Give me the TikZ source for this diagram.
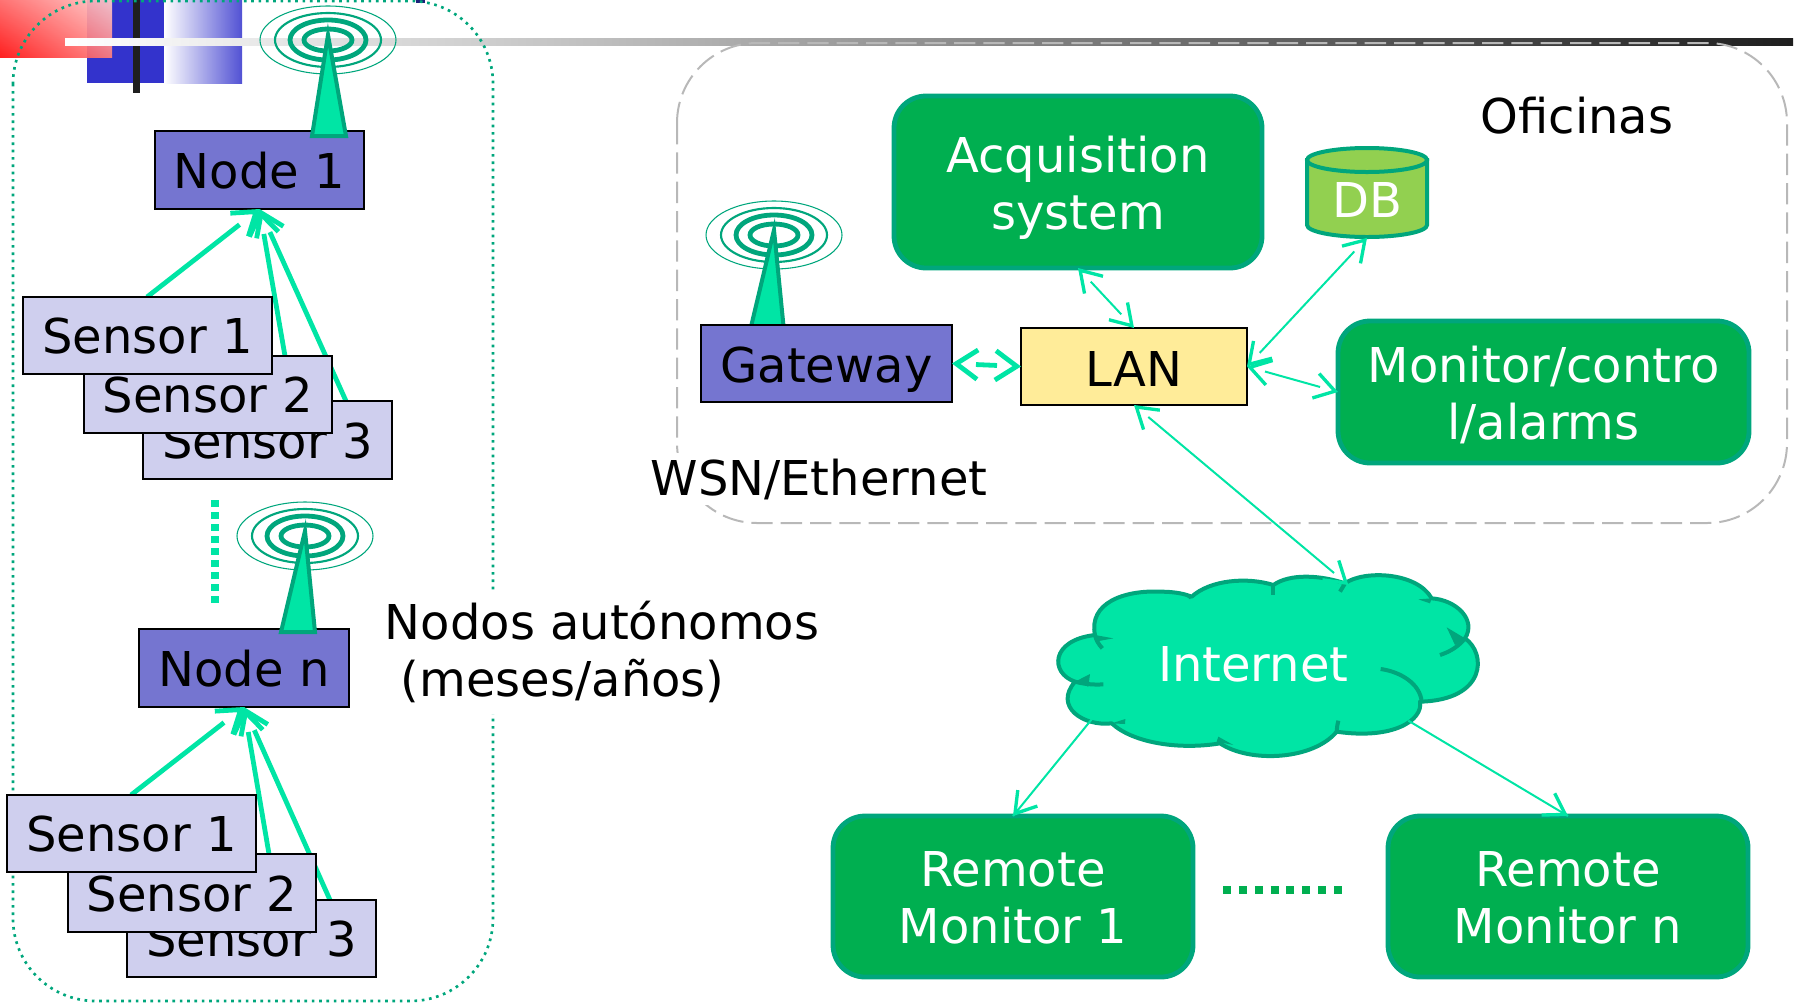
\documentclass[tikz,border=0pt]{standalone}
\usepackage{fontspec}
\setmainfont{DejaVu Sans}
\usetikzlibrary{arrows.meta,calc,shadings}
\definecolor{tealc}{HTML}{00A67C}
\definecolor{mint}{HTML}{00E5A5}
\definecolor{gbox}{HTML}{00AF50}
\definecolor{nodeb}{HTML}{7575D0}
\definecolor{sensb}{HTML}{CFCFEE}
\definecolor{lanb}{HTML}{FFEC99}
\definecolor{dbg}{HTML}{92D050}
\definecolor{bluep}{HTML}{3333CC}
\tikzset{
 basefont/.style={font=\fontsize{36}{43}\selectfont},
 bx/.style={basefont,inner sep=0pt,outer sep=0pt,align=center},
 blk/.style={bx,draw=black,line width=1.6pt,text height=27pt,text depth=0pt},
 nodebox/.style={blk,fill=nodeb},
 sensbox/.style={blk,fill=sensb},
 gatebox/.style={blk,fill=nodeb,text height=29pt},
 lanbox/.style={blk,fill=lanb,text height=30.5pt},
 greenbox/.style={bx,draw=tealc,fill=gbox,text=white,line width=3.6pt,rounded corners=24pt,text height=71.2pt,text depth=0pt},
 plain/.style={basefont,inner sep=0pt,align=left},
 fatline/.style={draw=mint,line width=3.6pt},
 fathead/.style={draw=mint,line width=3.6pt,dash pattern=on 0pt off 3000pt},
 thinline/.style={draw=mint,line width=1.5pt},
 thinhead/.style={draw=mint,line width=2.5pt,dash pattern=on 0pt off 3000pt},
 barb/.tip={Straight Barb[length=15pt,width=19pt]},
 fatbarb/.tip={Straight Barb[length=16pt,width=22pt]},
}
\newcommand{\bxn}[7][]{%
 \pgfmathsetmacro{\cx}{(#3+#5)/2}\pgfmathsetmacro{\cy}{(#4+#6)/2}%
 \pgfmathsetmacro{\bw}{(#5-#3)*0.75}\pgfmathsetmacro{\bh}{(#6-#4)*0.75}%
 \node[#1,minimum width=\bw pt,minimum height=\bh pt] (#2) at (\cx,\cy) {#7};}
% single-headed and double-headed open arrows: the line stops short of the head
\newcommand{\fatone}[2]{%
 \draw[fatline,shorten >=19pt] (#1) -- (#2);
 \draw[fathead,-{fatbarb}] (#1) -- (#2);}
\newcommand{\fattwo}[2]{%
 \draw[fatline,shorten >=18pt,shorten <=18pt] (#1) -- (#2);
 \draw[fathead,{fatbarb}-{fatbarb}] (#1) -- (#2);}
\newcommand{\thintwo}[2]{%
 \draw[thinline,shorten >=14pt,shorten <=14pt] (#1) -- (#2);
 \draw[thinhead,{barb}-{barb}] (#1) -- (#2);}
\newcommand{\thinone}[2]{%
 \draw[thinline] (#1) -- (#2);
 \draw[thinhead,-{barb}] (#1) -- (#2);}
\newcommand{\antenna}[3]{%
 \begin{scope}[shift={(#1,#2)}]
  \draw[tealc,line width=.8pt] (0,0) ellipse [x radius=68,y radius=34];
  \draw[tealc,line width=1.6pt] (0,0) ellipse [x radius=53,y radius=27];
  \draw[tealc,line width=3.6pt] (0,0) ellipse [x radius=38,y radius=20];
  \draw[tealc,line width=3.6pt] (0,0) ellipse [x radius=24,y radius=11];
  \draw[tealc,fill=mint,line width=3pt,line join=miter] (0,-5) -- (#3-17,96) -- (#3+17,96) -- cycle;
 \end{scope}}
\begin{document}
\begin{tikzpicture}[x=0.75pt,y=-0.75pt]
\useasboundingbox (0,0) rectangle (1797,1004);
% header decoration
\fill[bluep] (87,0) rectangle (164,83);
\shade[left color=white,right color=bluep!85!white] (164,0) rectangle (242,83);
\shade[lower left=red!95!white,upper right=red!20!white,upper left=red!60!white,lower right=red!50!white,opacity=.92] (0,0) rectangle (112,57);
\fill[black!88] (133,0) rectangle (140,93);
\shade[left color=white,right color=black!20] (65,38) rectangle (500,45);
\shade[left color=black!20,right color=black!55] (500,38) rectangle (1140,45);
\shade[left color=black!55,right color=black!88] (1140,38) rectangle (1793,45);
\fill[bluep!60!black] (416,0) rectangle (425,3);
% group frames
\draw[tealc,line width=2pt,dash pattern=on 2pt off 3.5pt,rounded corners=62pt] (13,1) rectangle (493,1001);
\draw[black!28,line width=1.5pt,dash pattern=on 16pt off 6pt,rounded corners=60pt] (677,43) rectangle (1787,523);
% arrows
\bxn[nodebox]{nodeA}{155}{131}{364}{209}{Node 1}
\bxn[nodebox]{nodeB}{139}{629}{349}{707}{Node n}
\coordinate (aS3) at (346,401);
\coordinate (aS2) at (285,356);
\coordinate (aS1) at (147,297);
\coordinate (bS3) at (330,900);
\coordinate (bS2) at (269,854);
\coordinate (bS1) at (131,795);
\fatone{aS1}{nodeA.south}
\fatone{aS2}{nodeA.south}
\fatone{aS3}{nodeA.south}
\fatone{bS1}{nodeB.south}
\fatone{bS2}{nodeB.south}
\fatone{bS3}{nodeB.south}
\bxn[sensbox]{a3}{143}{401}{392}{479}{Sensor 3}
\bxn[sensbox]{a2}{84}{356}{332}{433}{Sensor 2}
\bxn[sensbox]{a1}{23}{297}{272}{374}{Sensor 1}
\bxn[sensbox]{b3}{127}{900}{376}{977}{Sensor 3}
\bxn[sensbox]{b2}{68}{854}{316}{932}{Sensor 2}
\bxn[sensbox]{b1}{7}{795}{256}{872}{Sensor 1}
\antenna{328}{40}{1}
\antenna{305}{536}{-7}
\antenna{774}{235}{-7}
\draw[mint,line width=5.5pt,dash pattern=on 5pt off 4pt] (215,500) -- (215,603);
% labels with white backgrounds
\node[plain,fill=white,inner xsep=2pt,inner ysep=8pt,anchor=west] (auto) at (382,652) {Nodos autónomos\\\hspace{12pt}(meses/años)};
\node[plain,fill=white,inner sep=4pt] (wsn) at (819,479) {WSN/Ethernet};
\node[plain] (ofi) at (1577,116) {Oficinas};
% office boxes
\bxn[greenbox]{acq}{894}{96}{1262}{268}{Acquisition\\system}
\bxn[greenbox]{mon}{1338}{321}{1749}{463}{Monitor/contro\\l/alarms}
\bxn[greenbox]{rem1}{833}{816}{1193}{977}{Remote\\Monitor 1}
\bxn[greenbox]{remn}{1388}{816}{1748}{977}{Remote\\Monitor n}
\bxn[gatebox]{gw}{701}{325}{952}{402}{Gateway}
\bxn[lanbox]{lan}{1021}{328}{1247}{405}{LAN}
% database cylinder
\draw[tealc,fill=dbg,line width=3pt] (1307,160) -- (1307,225) arc [start angle=180,end angle=0,x radius=60,y radius=12] -- (1427,160) -- cycle;
\draw[tealc,fill=dbg,line width=3pt] (1367,160) ellipse [x radius=60,y radius=12];
\node[bx,text=white,minimum width=92pt,minimum height=68pt,text height=38.2pt,text depth=0pt] (db) at (1367,192.5) {DB};
% cloud
\begin{scope}[shift={(1020,540)},x=0.25pt,y=-0.25pt,line join=round]
\draw[tealc,fill=mint,line width=3pt]
 (225,285) .. controls (205,190) and (310,150) .. (420,155)
 .. controls (460,155) and (490,160) .. (515,170)
 .. controls (570,120) and (680,110) .. (760,135)
 .. controls (810,100) and (900,105) .. (975,130)
 .. controls (1030,90) and (1190,95) .. (1235,175)
 .. controls (1310,180) and (1370,240) .. (1335,295)
 .. controls (1400,340) and (1400,480) .. (1200,485)
 .. controls (1210,540) and (1120,600) .. (950,575)
 .. controls (880,660) and (690,670) .. (600,610)
 .. controls (480,630) and (340,610) .. (275,550)
 .. controls (190,560) and (100,500) .. (165,425)
 .. controls (90,400) and (90,300) .. (225,285) -- cycle;
\draw[tealc,line width=3pt] (1205,485) .. controls (1200,430) and (1140,395) .. (1082,387);
\draw[tealc,line width=3pt] (1335,295) .. controls (1315,320) and (1290,335) .. (1260,345);
\draw[tealc,line width=3pt] (950,575) .. controls (950,565) and (952,555) .. (955,542);
\draw[tealc,line width=3pt] (225,285) .. controls (228,300) and (235,312) .. (247,325);
\draw[tealc,line width=3pt] (165,425) .. controls (190,432) and (220,435) .. (250,433);
\draw[tealc,line width=3pt] (760,135) -- (760,165);
\draw[tealc,line width=3pt] (975,130) -- (960,155);
\fill[tealc] (225,285) -- (280,295) -- (225,305) -- cycle;
\fill[tealc] (165,425) -- (210,402) -- (205,440) -- cycle;
\fill[tealc] (1335,295) -- (1280,262) -- (1305,315) -- cycle;
\fill[tealc] (1235,175) -- (1195,178) -- (1230,190) -- cycle;
\fill[tealc] (515,170) -- (480,155) -- (510,178) -- cycle;
\fill[tealc] (275,550) -- (316,537) -- (315,552) -- cycle;
\fill[tealc] (640,615) -- (595,590) -- (590,605) -- cycle;
\node[basefont,text=white,inner sep=0pt] (inet) at (700,372) {Internet};
\coordinate (cHead) at (985,135);
\coordinate (cL) at (215,538);
\coordinate (cR) at (1165,542);
\end{scope}
% connectors
\fattwo{gw.east}{lan.west}
\thintwo{acq.south}{lan.north}
\thintwo{lan.east}{db.south}
\thintwo{lan.east}{mon.west}
\thintwo{lan.south}{cHead}
\thinone{cL}{rem1.north}
\thinone{cR}{remn.north}
\draw[gbox,line width=6pt,dash pattern=on 6pt off 5.9pt] (1223,890) -- (1343,890);
\end{tikzpicture}
\end{document}
